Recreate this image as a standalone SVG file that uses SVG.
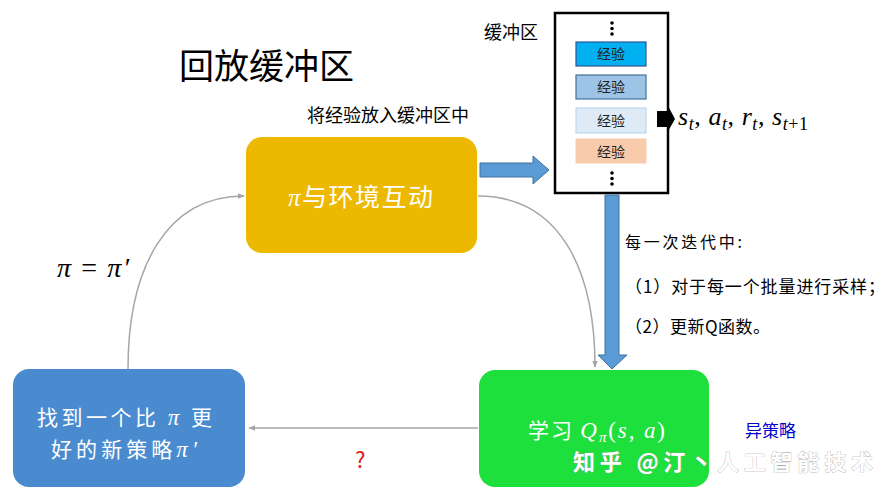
<svg xmlns="http://www.w3.org/2000/svg" width="890" height="500" viewBox="0 0 890 500">
<defs>
<style>
.cjk{font-family:"Noto Sans CJK SC","Noto Sans",sans-serif;}
.math{font-family:"Liberation Serif","DejaVu Serif",serif;font-style:italic;}
.up{font-style:normal;}
.node-text{fill:#ffffff;}
.conn{fill:none;stroke:#A6A6A6;stroke-width:1.5;}
.entry-text{font-size:14px;fill:#222;text-anchor:middle;}
.dots{fill:#000;}
</style>
<marker id="gh" viewBox="0 0 10 10" refX="9" refY="5" markerWidth="7" markerHeight="7" orient="auto" markerUnits="userSpaceOnUse">
<path d="M0,1 L10,5 L0,9 z" fill="#A6A6A6"/>
</marker>
</defs>
<rect width="890" height="500" fill="#ffffff"/>

<text class="cjk" x="179" y="79" font-size="35" fill="#000">回放缓冲区</text>
<text class="cjk" x="307" y="122" font-size="18" fill="#000">将经验放入缓冲区中</text>
<text class="cjk" x="484" y="39" font-size="18" fill="#000">缓冲区</text>
<text class="math" x="57" y="277" font-size="28" fill="#000" textLength="72" lengthAdjust="spacing">π <tspan class="up">=</tspan> π′</text>

<g id="buffer">
<rect x="555" y="13" width="113" height="180" fill="#fff" stroke="#000" stroke-width="2.5"/>
<circle class="dots" cx="612" cy="23" r="1.8"/><circle class="dots" cx="612" cy="28.5" r="1.8"/><circle class="dots" cx="612" cy="34" r="1.8"/>
<rect x="576" y="42" width="70" height="24" fill="#00B0F0" stroke="#2F5597" stroke-width="1.2"/>
<text class="cjk entry-text" x="611" y="59">经验</text>
<rect x="576" y="75" width="70" height="24" fill="#9DC3E6" stroke="#41719C" stroke-width="1.2"/>
<text class="cjk entry-text" x="611" y="92">经验</text>
<rect x="576" y="108" width="70" height="25" fill="#DEEBF7" stroke="#BDD7EE" stroke-width="1.2"/>
<text class="cjk entry-text" x="611" y="126">经验</text>
<rect x="576" y="139" width="70" height="24" fill="#F8CBAD" stroke="#F8CBAD" stroke-width="1"/>
<text class="cjk entry-text" x="611" y="157">经验</text>
<circle class="dots" cx="612" cy="173" r="1.8"/><circle class="dots" cx="612" cy="178.5" r="1.8"/><circle class="dots" cx="612" cy="184" r="1.8"/>
</g>

<g id="connectors">
<path class="conn" d="M128,369 C128,270 165,196 244,196" marker-end="url(#gh)"/>
<path class="conn" d="M478,196 C560,196 595,270 595,367" marker-end="url(#gh)"/>
<path class="conn" d="M478,428 L249,428" marker-end="url(#gh)"/>
<path d="M480,163 L533,163 L533,156 L549,170 L533,184 L533,177 L480,177 z" fill="#5B9BD5" stroke="#41719C" stroke-width="1"/>
<path d="M605,195 L619,195 L619,355 L627,355 L612,369 L598,355 L605,355 z" fill="#5B9BD5" stroke="#41719C" stroke-width="1"/>
<path d="M657,111 L667,111 L667,104 L675,119 L667,133 L667,127 L657,127 z" fill="#000"/>
</g>

<text class="math" x="678" y="125" font-size="26" fill="#000" textLength="130" lengthAdjust="spacing">s<tspan font-size="18" dy="5">t</tspan><tspan dy="-5" class="up">, </tspan>a<tspan font-size="18" dy="5">t</tspan><tspan dy="-5" class="up">, </tspan>r<tspan font-size="18" dy="5">t</tspan><tspan dy="-5" class="up">, </tspan>s<tspan font-size="18" dy="5">t<tspan class="up">+1</tspan></tspan></text>

<g id="interact">
<rect x="246" y="137" width="231" height="116" rx="16" fill="#EDB800"/>
<text class="cjk node-text" x="288" y="206" font-size="25" textLength="145" lengthAdjust="spacing"><tspan class="math">π</tspan>与环境互动</text>
</g>

<g id="learn">
<rect x="479" y="370" width="230" height="117" rx="16" fill="#1EE03C"/>
<text class="cjk node-text" x="528" y="438" font-size="21" textLength="137" lengthAdjust="spacing">学习 <tspan class="math" font-size="23">Q</tspan><tspan class="math" font-size="15" dy="4">π</tspan><tspan class="math up" font-size="23" dy="-4">(</tspan><tspan class="math" font-size="23">s</tspan><tspan class="math up" font-size="23">, </tspan><tspan class="math" font-size="23">a</tspan><tspan class="math up" font-size="23">)</tspan></text>
</g>

<g id="improve">
<rect x="13" y="369" width="232" height="118" rx="16" fill="#4A8BD0"/>
<text class="cjk node-text" x="37" y="425" font-size="21" textLength="175" lengthAdjust="spacing">找到一个比 <tspan class="math" font-size="23">π</tspan> 更</text>
<text class="cjk node-text" x="51" y="457" font-size="21" textLength="146" lengthAdjust="spacing">好的新策略<tspan class="math" font-size="23">π′</tspan></text>
</g>

<text class="cjk" x="625" y="248" font-size="16" fill="#000" textLength="117" lengthAdjust="spacing">每一次迭代中:</text>
<text class="cjk" x="625" y="293" font-size="17" fill="#000" textLength="260" lengthAdjust="spacing">（1）对于每一个批量进行采样；</text>
<text class="cjk" x="625" y="333" font-size="17" fill="#000" textLength="145" lengthAdjust="spacing">（2）更新Q函数。</text>
<text class="cjk" x="745" y="437" font-size="17" fill="#0000CC">异策略</text>
<text class="cjk" x="355" y="468" font-size="22" fill="#E02020">?</text>
<text class="cjk" x="573" y="470" font-size="22" font-weight="bold" fill="#ffffff" stroke="#9a9a9a" stroke-width="0.6" paint-order="stroke" textLength="300" lengthAdjust="spacing">知乎 @汀丶人工智能技术</text>
</svg>
